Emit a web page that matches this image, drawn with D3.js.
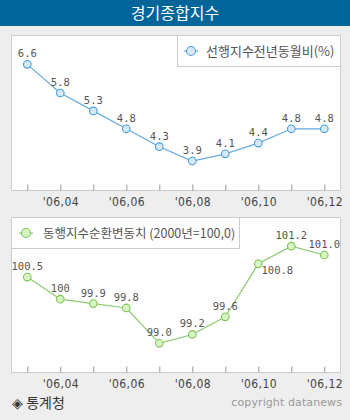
<!DOCTYPE html>
<html><head><meta charset="utf-8">
<script src="https://cdn.jsdelivr.net/npm/d3@7"></script>
<style>
html,body{margin:0;padding:0;background:#eeeeee;}
svg{display:block;}
</style></head>
<body>
<script>
const months = ["'06,03","'06,04","'06,05","'06,06","'06,07","'06,08","'06,09","'06,10","'06,11","'06,12"];
const tickLabels = ["'06,04","'06,06","'06,08","'06,10","'06,12"];
const leading = [6.6, 5.8, 5.3, 4.8, 4.3, 3.9, 4.1, 4.4, 4.8, 4.8];
const leadingLabels = ["6.6","5.8","5.3","4.8","4.3","3.9","4.1","4.4","4.8","4.8"];
const coincident = [100.5, 100, 99.9, 99.8, 99.0, 99.2, 99.6, 100.8, 101.2, 101.0];
const coincidentLabels = ["100.5","100","99.9","99.8","99.0","99.2","99.6","100.8","101.2","101.0"];
const title = "경기종합지수";
const legend1 = "선행지수전년동월비(%)";
const legend2 = "동행지수순환변동치 (2000년=100,0)";

const W = 350, H = 420;
const svg = d3.select("body").append("svg").attr("width", W).attr("height", H);
svg.append("rect").attr("width", W).attr("height", H).attr("fill", "#eeeeee");
svg.append("rect").attr("width", W).attr("height", 26).attr("fill", "#006699");
svg.append("text").attr("x", W/2).attr("y", 19).attr("text-anchor","middle")
  .attr("fill","#fff").attr("font-family","'Noto Sans CJK KR'").attr("font-size",16).attr("font-weight",400)
  .text(title);

const x = d3.scalePoint().domain(months).range([27.3, 324.3]);

function panel(cfg){
  const g = svg.append("g");
  g.append("rect").attr("x", 11.5).attr("y", cfg.top+0.5).attr("width", 329).attr("height", cfg.bottom-cfg.top)
    .attr("fill","#fff").attr("stroke","#cccccc");
  const y = d3.scaleLinear().domain(cfg.domain).range([cfg.bottom, cfg.top]);
  const ax = d3.axisBottom(x).tickSize(-6).tickFormat(d => tickLabels.includes(d) ? d : "").tickPadding(8);
  const axg = g.append("g").attr("transform", `translate(0,${cfg.bottom+0.5})`).call(ax);
  axg.select(".domain").remove();
  axg.selectAll(".tick line").attr("stroke","#999");
  axg.selectAll(".tick text").attr("fill","#444").attr("font-family","'Liberation Sans Narrow', 'DejaVu Sans Condensed'")
    .attr("font-size",12).attr("letter-spacing",0.4).attr("dy","0.6em");
  g.append("path").datum(cfg.values)
    .attr("d", d3.line().x((d,i)=>x(months[i])).y(d=>y(d)))
    .attr("fill","none").attr("stroke",cfg.line).attr("stroke-width",1.2);
  g.selectAll("circle.pt").data(cfg.values).join("circle")
    .attr("cx",(d,i)=>x(months[i])).attr("cy",d=>y(d)).attr("r",3.8)
    .attr("fill",cfg.fill).attr("stroke",cfg.stroke).attr("stroke-width",1.1);
  g.selectAll("text.lbl").data(cfg.values).join("text")
    .attr("x",(d,i)=>x(months[i]) + (cfg.dx[i]||0)).attr("y",(d,i)=>y(d) - 7 + (cfg.dy[i]||0))
    .attr("text-anchor","middle").attr("fill","#555")
    .attr("font-family","'DejaVu Sans Mono'").attr("font-size",10.5)
    .text((d,i)=>cfg.labels[i]);
  const L = cfg.legend;
  g.append("rect").attr("x",L.x+0.5).attr("y",cfg.top+0.5).attr("width",L.w).attr("height",31)
    .attr("fill","#fff").attr("stroke","#cccccc");
  g.append("line").attr("x1",L.mx-7).attr("x2",L.mx+7).attr("y1",cfg.top+16).attr("y2",cfg.top+16)
    .attr("stroke",cfg.line).attr("stroke-width",1.2);
  g.append("circle").attr("cx",L.mx).attr("cy",cfg.top+16).attr("r",4.5)
    .attr("fill",cfg.fill).attr("stroke",cfg.stroke).attr("stroke-width",1.1);
  g.append("text").attr("x",L.tx).attr("y",cfg.top+21).attr("fill","#555")
    .attr("font-family","'Noto Sans CJK KR'").attr("font-size",L.fs).text(L.text);
}

panel({top:35, bottom:190, domain:[3.09,7.42], values:leading, labels:leadingLabels,
  line:"#66aadd", fill:"#d4e8f8", stroke:"#4a9fd8", dx:[], dy:[],
  legend:{x:177, w:163, mx:191, tx:206, fs:13, text:legend1}});
panel({top:217, bottom:372, domain:[98.35,101.86], values:coincident, labels:coincidentLabels,
  line:"#8cc870", fill:"#d6f6c4", stroke:"#7cc455", dx:[0,0,0,0,0,0,0,19,0,0], dy:[0,0,0,0,0,0,0,17,0,0],
  legend:{x:11, w:228, mx:26, tx:43, fs:12.5, text:legend2}});

svg.append("text").attr("x",12).attr("y",408).attr("fill","#333")
  .attr("font-family","'Noto Sans CJK KR'").attr("font-size",14).text("◈ 통계청");
svg.append("text").attr("x",342).attr("y",406).attr("text-anchor","end").attr("fill","#999")
  .attr("font-family","'DejaVu Sans'").attr("font-size",11).attr("letter-spacing",0.1).text("copyright datanews");
</script>
</body></html>
